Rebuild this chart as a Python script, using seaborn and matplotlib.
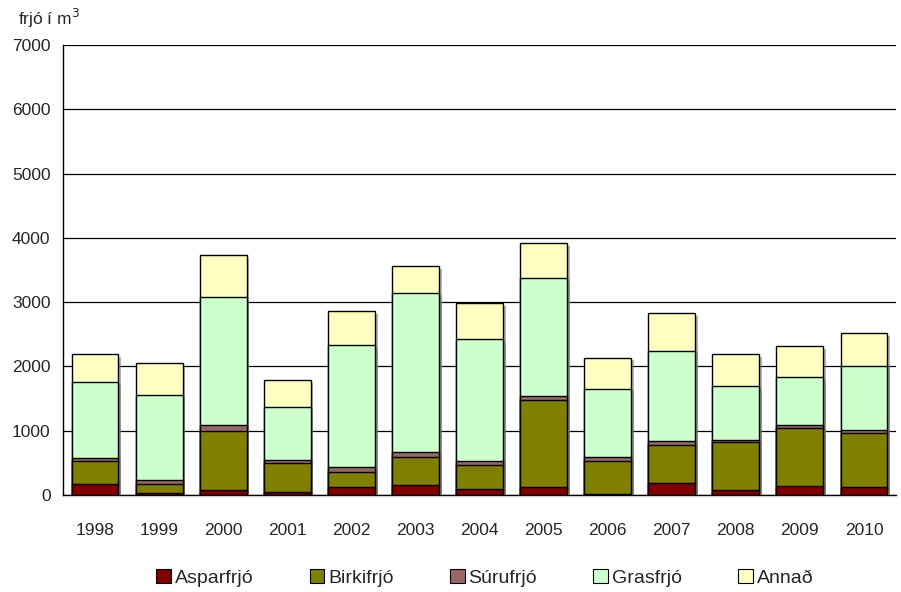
import matplotlib
matplotlib.use("Agg")
import matplotlib.pyplot as plt
import matplotlib.patheffects as pe
from matplotlib.patches import Patch
import seaborn as sns
import pandas as pd
import numpy as np

years = ["1998", "1999", "2000", "2001", "2002", "2003", "2004",
         "2005", "2006", "2007", "2008", "2009", "2010"]
aspar = [166, 31, 73, 42, 130, 151, 88, 124, 10, 182, 73, 140, 124]
birki = [368, 135, 923, 451, 223, 445, 374, 1349, 514, 601, 747, 897, 836]
suru = [47, 72, 93, 47, 78, 68, 67, 72, 72, 52, 36, 47, 46]
gras = [1182, 1318, 1992, 824, 1903, 2479, 1898, 1831, 1058, 1410, 835, 747, 996]
annad = [431, 503, 650, 425, 529, 420, 560, 545, 482, 587, 503, 482, 518]

series_names = ["Asparfrjó", "Birkifrjó", "Súrufrjó", "Grasfrjó", "Annað"]
series_vals = [aspar, birki, suru, gras, annad]
colors = ["#800000", "#808000", "#996666", "#CCFFCC", "#FFFFC0"]

sns.set_style("white")
plt.rcParams["font.family"] = ["Liberation Sans", "DejaVu Sans"]

fig = plt.figure(figsize=(9.01, 5.92), dpi=100)
ax = fig.add_axes([63/901, 97/592, 833/901, 450/592])

cum = np.cumsum(np.array(series_vals), axis=0)
shadow = [pe.SimplePatchShadow(offset=(2, -2), shadow_rgbFace="#808080", alpha=0.6), pe.Normal()]

for i in range(len(series_names) - 1, -1, -1):
    df = pd.DataFrame({"year": years, "value": cum[i]})
    sns.barplot(data=df, x="year", y="value", color=colors[i], saturation=1,
                width=0.73, edgecolor="black", linewidth=1, ax=ax, zorder=3)

for p in ax.patches:
    p.set_path_effects(shadow)

ax.set_ylim(0, 7000)
ax.set_xlim(-0.5, len(years) - 0.5)
ax.set_yticks(range(0, 7001, 1000))
ax.set_yticklabels([str(v) for v in range(0, 7001, 1000)], fontsize=12.5)
ax.yaxis.grid(True, color="#000000", linewidth=0.9, zorder=0)
ax.set_axisbelow(True)
ax.set_xlabel("")
ax.set_ylabel("")
ax.tick_params(axis="x", which="major", length=0, labelsize=12.5, pad=20)
ax.set_xticks(np.arange(-0.5, len(years), 1), minor=True)
ax.tick_params(axis="x", which="minor", length=6, width=1, color="black", direction="out")
ax.tick_params(axis="y", length=6, width=1, color="black", direction="out", pad=3)
for s in ["top", "right"]:
    ax.spines[s].set_visible(False)
for s in ["left", "bottom"]:
    ax.spines[s].set_color("black")
    ax.spines[s].set_linewidth(1)

fig.text(18/901, 1 - 25/592, "frjó í m$^3$", fontsize=12.5, ha="left", va="baseline")

handles = [Patch(facecolor=c, edgecolor="black", linewidth=0.8) for c in colors]
fig.legend(handles, series_names, loc="center", bbox_to_anchor=(0.538, 1 - 578/592),
           ncol=5, frameon=False, fontsize=14, handlelength=0.75, handleheight=0.75,
           handletextpad=0.2, columnspacing=2.9)

fig.savefig("out.png", dpi=100)
